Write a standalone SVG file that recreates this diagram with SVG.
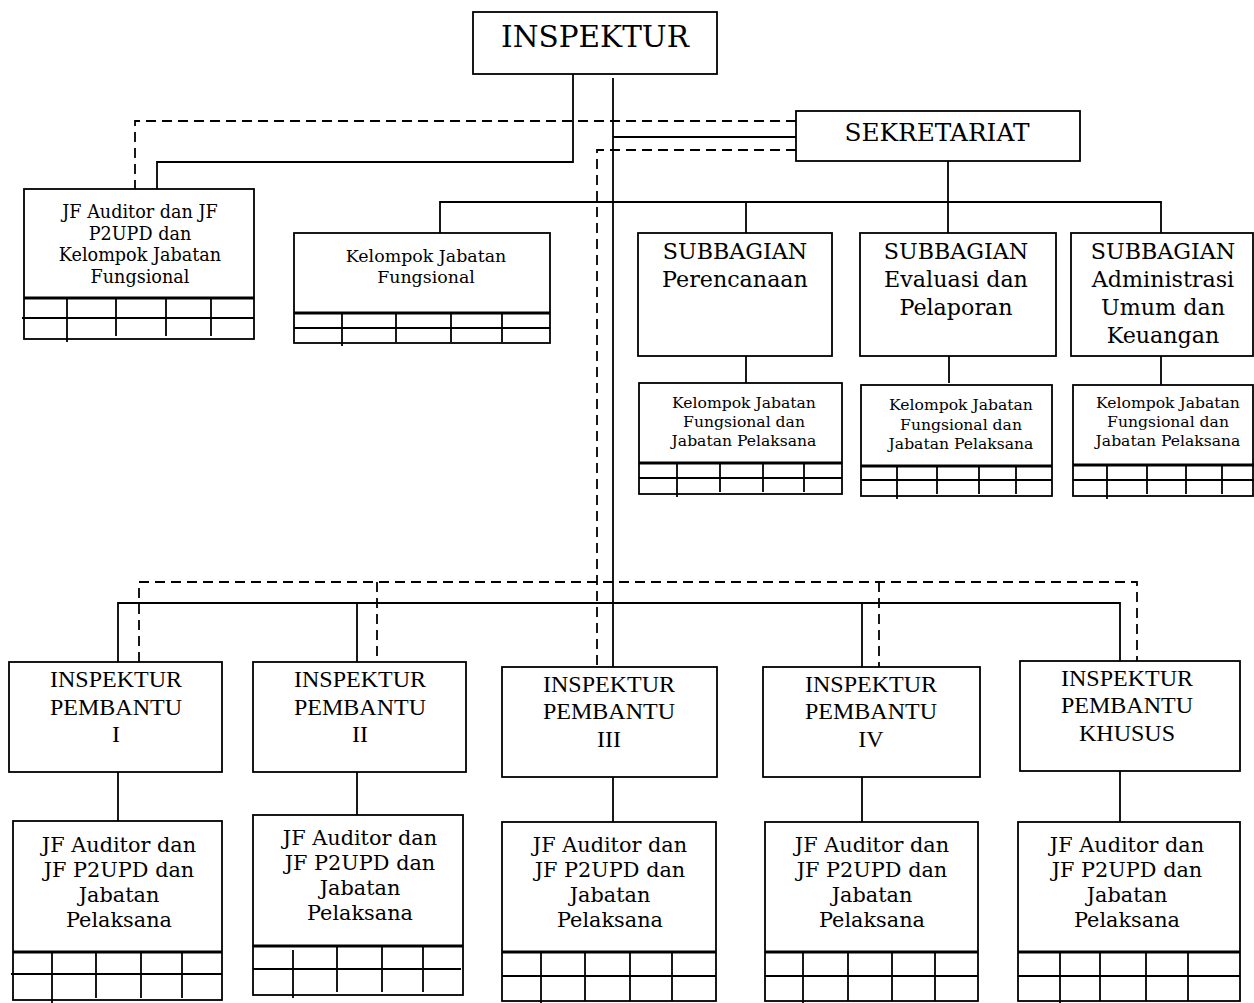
<svg xmlns="http://www.w3.org/2000/svg" width="1254" height="1003" viewBox="0 0 1254 1003">
<style>
.b{fill:#fff;stroke:#000;stroke-width:1.8}
.l{fill:none;stroke:#000;stroke-width:1.8}
.d{fill:none;stroke:#000;stroke-width:1.8;stroke-dasharray:10 6}
.t{stroke:#000;stroke-width:3.2}
.bk{font-family:"DejaVu Serif","Liberation Serif",serif;fill:#000;text-anchor:middle}
.tm{font-family:"Liberation Serif","Times New Roman",serif;fill:#000;text-anchor:middle;font-size:24px}
</style>
<rect width="1254" height="1003" fill="#fff"/>
<g id="connectors">
<polyline class="l" points="573,74 573,162 157,162 157,189"/>
<polyline class="d" points="796,121 135,121 135,189"/>
<line class="l" x1="613" y1="78" x2="613" y2="667"/>
<line class="l" x1="613" y1="137" x2="796" y2="137"/>
<polyline class="d" points="796,150 597,150 597,667"/>
<line class="l" x1="948" y1="161" x2="948" y2="233"/>
<polyline class="l" points="440,233 440,202 1161,202 1161,233"/>
<line class="l" x1="746" y1="202" x2="746" y2="233"/>
<line class="l" x1="746" y1="356" x2="746" y2="383"/>
<line class="l" x1="949" y1="356" x2="949" y2="383"/>
<line class="l" x1="1161" y1="356" x2="1161" y2="385"/>
<polyline class="l" points="118,662 118,603 1120,603 1120,661"/>
<line class="l" x1="357" y1="603" x2="357" y2="662"/>
<line class="l" x1="862" y1="603" x2="862" y2="667"/>
<polyline class="d" points="139,662 139,582 1137,582 1137,661"/>
<line class="d" x1="377" y1="582" x2="377" y2="662"/>
<line class="d" x1="879" y1="582" x2="879" y2="667"/>
<line class="l" x1="118" y1="772" x2="118" y2="821"/>
<line class="l" x1="357" y1="772" x2="357" y2="815"/>
<line class="l" x1="613" y1="777" x2="613" y2="822"/>
<line class="l" x1="862" y1="777" x2="862" y2="822"/>
<line class="l" x1="1120" y1="771" x2="1120" y2="822"/>
</g>
<g id="inspektur">
<rect class="b" x="473" y="12" width="244" height="62"/>
<text class="bk" x="595" y="47" font-size="29.5">INSPEKTUR</text>
</g>
<g id="sekretariat">
<rect class="b" x="796" y="111" width="284" height="50"/>
<text class="bk" x="937" y="141" font-size="24.8">SEKRETARIAT</text>
</g>
<g id="jf-top">
<rect class="b" x="24" y="189" width="230" height="150"/>
<line class="t" x1="24" y1="298" x2="254" y2="298"/>
<line class="l" x1="22" y1="318" x2="254" y2="318"/>
<line class="l" x1="67" y1="298" x2="67" y2="342"/>
<line class="l" x1="116" y1="298" x2="116" y2="336"/>
<line class="l" x1="166" y1="298" x2="166" y2="336"/>
<line class="l" x1="211" y1="298" x2="211" y2="336"/>
<text class="bk" font-size="17.6"><tspan x="140" y="218">JF Auditor dan JF</tspan><tspan x="140" y="240">P2UPD dan</tspan><tspan x="140" y="261">Kelompok Jabatan</tspan><tspan x="140" y="283">Fungsional</tspan></text>
</g>
<g id="kjf-top">
<rect class="b" x="294" y="233" width="256" height="110"/>
<line class="t" x1="294" y1="313" x2="550" y2="313"/>
<line class="l" x1="294" y1="328" x2="550" y2="328"/>
<line class="l" x1="342" y1="313" x2="342" y2="346"/>
<line class="l" x1="396" y1="313" x2="396" y2="342"/>
<line class="l" x1="451" y1="313" x2="451" y2="342"/>
<line class="l" x1="502" y1="313" x2="502" y2="342"/>
<text class="bk" font-size="17.4"><tspan x="426" y="262">Kelompok Jabatan</tspan><tspan x="426" y="283">Fungsional</tspan></text>
</g>
<g id="sub-perencanaan">
<rect class="b" x="638" y="233" width="194" height="123"/>
<text class="bk" font-size="22.2"><tspan x="735" y="259">SUBBAGIAN</tspan><tspan x="735" y="287">Perencanaan</tspan></text>
</g>
<g id="sub-evaluasi">
<rect class="b" x="860" y="233" width="196" height="123"/>
<text class="bk" font-size="22.2"><tspan x="956" y="259">SUBBAGIAN</tspan><tspan x="956" y="287">Evaluasi dan</tspan><tspan x="956" y="315">Pelaporan</tspan></text>
</g>
<g id="sub-administrasi">
<rect class="b" x="1071" y="233" width="182" height="123"/>
<text class="bk" font-size="22.2"><tspan x="1163" y="259">SUBBAGIAN</tspan><tspan x="1163" y="287">Administrasi</tspan><tspan x="1163" y="315">Umum dan</tspan><tspan x="1163" y="343">Keuangan</tspan></text>
</g>
<g id="kjf-perencanaan">
<rect class="b" x="639" y="383" width="203" height="111"/>
<line class="t" x1="639" y1="463" x2="842" y2="463"/>
<line class="l" x1="639" y1="478" x2="842" y2="478"/>
<line class="l" x1="677" y1="463" x2="677" y2="497"/>
<line class="l" x1="720" y1="463" x2="720" y2="492"/>
<line class="l" x1="763" y1="463" x2="763" y2="492"/>
<line class="l" x1="804" y1="463" x2="804" y2="492"/>
<text class="bk" font-size="15.6"><tspan x="744" y="408">Kelompok Jabatan</tspan><tspan x="744" y="427">Fungsional dan</tspan><tspan x="744" y="446">Jabatan Pelaksana</tspan></text>
</g>
<g id="kjf-evaluasi">
<rect class="b" x="861" y="385" width="191" height="111"/>
<line class="t" x1="861" y1="466" x2="1052" y2="466"/>
<line class="l" x1="861" y1="480" x2="1052" y2="480"/>
<line class="l" x1="897" y1="466" x2="897" y2="499"/>
<line class="l" x1="937" y1="466" x2="937" y2="494"/>
<line class="l" x1="979" y1="466" x2="979" y2="494"/>
<line class="l" x1="1016" y1="466" x2="1016" y2="494"/>
<text class="bk" font-size="15.6"><tspan x="961" y="410">Kelompok Jabatan</tspan><tspan x="961" y="430">Fungsional dan</tspan><tspan x="961" y="449">Jabatan Pelaksana</tspan></text>
</g>
<g id="kjf-administrasi">
<rect class="b" x="1073" y="385" width="180" height="111"/>
<line class="t" x1="1073" y1="465" x2="1254" y2="465"/>
<line class="l" x1="1073" y1="480" x2="1254" y2="480"/>
<line class="l" x1="1107" y1="465" x2="1107" y2="499"/>
<line class="l" x1="1147" y1="465" x2="1147" y2="494"/>
<line class="l" x1="1186" y1="465" x2="1186" y2="494"/>
<line class="l" x1="1222" y1="465" x2="1222" y2="494"/>
<text class="bk" font-size="15.6"><tspan x="1168" y="408">Kelompok Jabatan</tspan><tspan x="1168" y="427">Fungsional dan</tspan><tspan x="1168" y="446">Jabatan Pelaksana</tspan></text>
</g>
<g id="ip-1">
<rect class="b" x="9" y="662" width="213" height="110"/>
<text class="tm"><tspan x="116" y="687">INSPEKTUR</tspan><tspan x="116" y="715">PEMBANTU</tspan><tspan x="116" y="742">I</tspan></text>
</g>
<g id="ip-2">
<rect class="b" x="253" y="662" width="213" height="110"/>
<text class="tm"><tspan x="360" y="687">INSPEKTUR</tspan><tspan x="360" y="715">PEMBANTU</tspan><tspan x="360" y="742">II</tspan></text>
</g>
<g id="ip-3">
<rect class="b" x="502" y="667" width="215" height="110"/>
<text class="tm"><tspan x="609" y="692">INSPEKTUR</tspan><tspan x="609" y="719">PEMBANTU</tspan><tspan x="609" y="747">III</tspan></text>
</g>
<g id="ip-4">
<rect class="b" x="763" y="667" width="217" height="110"/>
<text class="tm"><tspan x="871" y="692">INSPEKTUR</tspan><tspan x="871" y="719">PEMBANTU</tspan><tspan x="871" y="747">IV</tspan></text>
</g>
<g id="ip-khusus">
<rect class="b" x="1020" y="661" width="220" height="110"/>
<text class="tm"><tspan x="1127" y="686">INSPEKTUR</tspan><tspan x="1127" y="713">PEMBANTU</tspan><tspan x="1127" y="741">KHUSUS</tspan></text>
</g>
<g id="jf-1">
<rect class="b" x="13" y="821" width="209" height="179"/>
<line class="t" x1="13" y1="952" x2="222" y2="952"/>
<line class="l" x1="11" y1="974" x2="222" y2="974"/>
<line class="l" x1="52" y1="952" x2="52" y2="1003"/>
<line class="l" x1="96" y1="952" x2="96" y2="998"/>
<line class="l" x1="141" y1="952" x2="141" y2="998"/>
<line class="l" x1="182" y1="952" x2="182" y2="998"/>
<text class="bk" font-size="20.8"><tspan x="119" y="852">JF Auditor dan</tspan><tspan x="119" y="877">JF P2UPD dan</tspan><tspan x="119" y="902">Jabatan</tspan><tspan x="119" y="927">Pelaksana</tspan></text>
</g>
<g id="jf-2">
<rect class="b" x="253" y="815" width="210" height="180"/>
<line class="t" x1="253" y1="946" x2="463" y2="946"/>
<line class="l" x1="253" y1="969" x2="461" y2="969"/>
<line class="l" x1="293" y1="950" x2="293" y2="998"/>
<line class="l" x1="337" y1="946" x2="337" y2="992"/>
<line class="l" x1="382" y1="946" x2="382" y2="992"/>
<line class="l" x1="423" y1="946" x2="423" y2="992"/>
<text class="bk" font-size="20.8"><tspan x="360" y="845">JF Auditor dan</tspan><tspan x="360" y="870">JF P2UPD dan</tspan><tspan x="360" y="895">Jabatan</tspan><tspan x="360" y="920">Pelaksana</tspan></text>
</g>
<g id="jf-3">
<rect class="b" x="502" y="822" width="214" height="179"/>
<line class="t" x1="502" y1="952" x2="716" y2="952"/>
<line class="l" x1="502" y1="976" x2="716" y2="976"/>
<line class="l" x1="541" y1="952" x2="541" y2="1003"/>
<line class="l" x1="585" y1="952" x2="585" y2="1001"/>
<line class="l" x1="630" y1="952" x2="630" y2="1001"/>
<line class="l" x1="672" y1="952" x2="672" y2="1001"/>
<text class="bk" font-size="20.8"><tspan x="610" y="852">JF Auditor dan</tspan><tspan x="610" y="877">JF P2UPD dan</tspan><tspan x="610" y="902">Jabatan</tspan><tspan x="610" y="927">Pelaksana</tspan></text>
</g>
<g id="jf-4">
<rect class="b" x="765" y="822" width="213" height="179"/>
<line class="t" x1="765" y1="952" x2="978" y2="952"/>
<line class="l" x1="765" y1="976" x2="978" y2="976"/>
<line class="l" x1="803" y1="952" x2="803" y2="1003"/>
<line class="l" x1="848" y1="952" x2="848" y2="1001"/>
<line class="l" x1="892" y1="952" x2="892" y2="1001"/>
<line class="l" x1="935" y1="952" x2="935" y2="1001"/>
<text class="bk" font-size="20.8"><tspan x="872" y="852">JF Auditor dan</tspan><tspan x="872" y="877">JF P2UPD dan</tspan><tspan x="872" y="902">Jabatan</tspan><tspan x="872" y="927">Pelaksana</tspan></text>
</g>
<g id="jf-khusus">
<rect class="b" x="1018" y="822" width="222" height="179"/>
<line class="t" x1="1018" y1="952" x2="1240" y2="952"/>
<line class="l" x1="1018" y1="976" x2="1240" y2="976"/>
<line class="l" x1="1060" y1="952" x2="1060" y2="1003"/>
<line class="l" x1="1100" y1="952" x2="1100" y2="1001"/>
<line class="l" x1="1146" y1="952" x2="1146" y2="1001"/>
<line class="l" x1="1188" y1="952" x2="1188" y2="1001"/>
<text class="bk" font-size="20.8"><tspan x="1127" y="852">JF Auditor dan</tspan><tspan x="1127" y="877">JF P2UPD dan</tspan><tspan x="1127" y="902">Jabatan</tspan><tspan x="1127" y="927">Pelaksana</tspan></text>
</g>
</svg>
